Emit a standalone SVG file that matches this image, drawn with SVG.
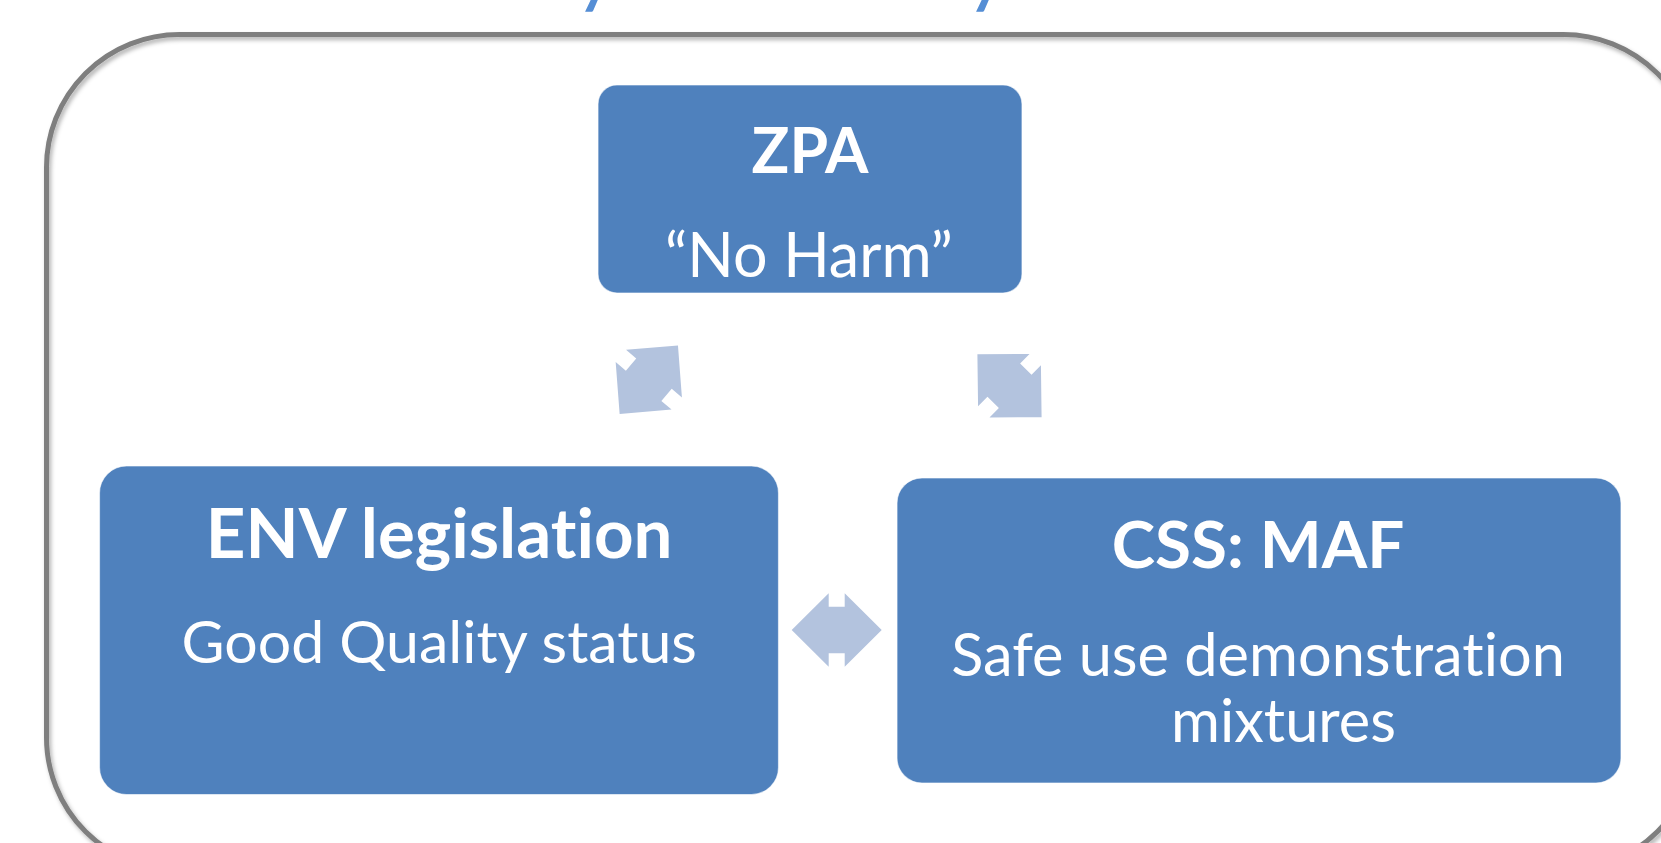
<svg xmlns="http://www.w3.org/2000/svg" width="1661" height="843" viewBox="0 0 1661 843">
  <style>
    text { font-variant-ligatures: none; }
    .title { font-family: Lato, "Open Sans", sans-serif; font-weight: 700; font-size: 62px; fill: #558ED5; }
    .box { fill: #4F81BD; stroke: #FFFFFF; stroke-width: 1.2; stroke-opacity: 0.6; }
    .head { font-family: Lato, "Open Sans", sans-serif; font-weight: 700; fill: #FFFFFF; text-anchor: middle; }
    .body { font-family: Lato, "Open Sans", sans-serif; font-weight: 400; fill: #FFFFFF; text-anchor: middle; }
    .arrow { fill: #B3C3DE; }
  </style>
  <defs>
    <filter id="frameShadow" x="-5%" y="-5%" width="110%" height="110%">
      <feDropShadow dx="2" dy="3" stdDeviation="2" flood-color="#000000" flood-opacity="0.3"/>
    </filter>
    <!-- double-headed arrow, drawn horizontally around its centre -->
    <path id="dblArrow" d="M -45 0 L -8 -36.7 L -8 -23.3 L 8 -23.3 L 8 -36.7 L 45 0 L 8 36.7 L 8 23.3 L -8 23.3 L -8 36.7 Z"/>
  </defs>

  <rect width="1661" height="843" fill="#FFFFFF"/>

  <!-- heading, mostly above the visible area -->
  <g id="heading">
    <text class="title" x="578" y="1.5">y</text>
    <text class="title" x="969" y="1.5">y</text>
  </g>

  <!-- outer rounded frame -->
  <g id="frame">
    <rect x="46.5" y="34.5" width="1650" height="836" rx="133" ry="133" fill="none" stroke="#7F7F7F" stroke-width="5" filter="url(#frameShadow)"/>
  </g>

  <g id="connectors">
    <use href="#dblArrow" class="arrow" transform="translate(648.8 379.7) rotate(-49.6)"/>
    <use href="#dblArrow" class="arrow" transform="translate(1009.5 385.7) rotate(44.5)"/>
    <use href="#dblArrow" class="arrow" transform="translate(836.7 630)"/>
  </g>

  <g id="zpa">
    <rect class="box" x="598" y="85" width="424" height="208" rx="19"/>
    <text class="head" x="810" y="173.3" font-size="62.5">ZPA</text>
    <text class="body" x="809" y="276.7" font-size="61">“No Harm”</text>
  </g>

  <g id="env">
    <rect class="box" x="99.5" y="466" width="679" height="328.5" rx="27"/>
    <text class="head" x="439.2" y="557.7" font-size="69">ENV legislation</text>
    <text class="body" x="439.2" y="663.3" font-size="59">Good Quality status</text>
  </g>

  <g id="css">
    <rect class="box" x="897" y="478" width="724" height="305" rx="25"/>
    <text class="head" x="1258" y="568.3" font-size="65.5">CSS: MAF</text>
    <text class="body" x="1258" y="676" font-size="59.5">Safe use demonstration</text>
    <text class="body" x="1283.5" y="741.7" font-size="59.5">mixtures</text>
  </g>
</svg>
